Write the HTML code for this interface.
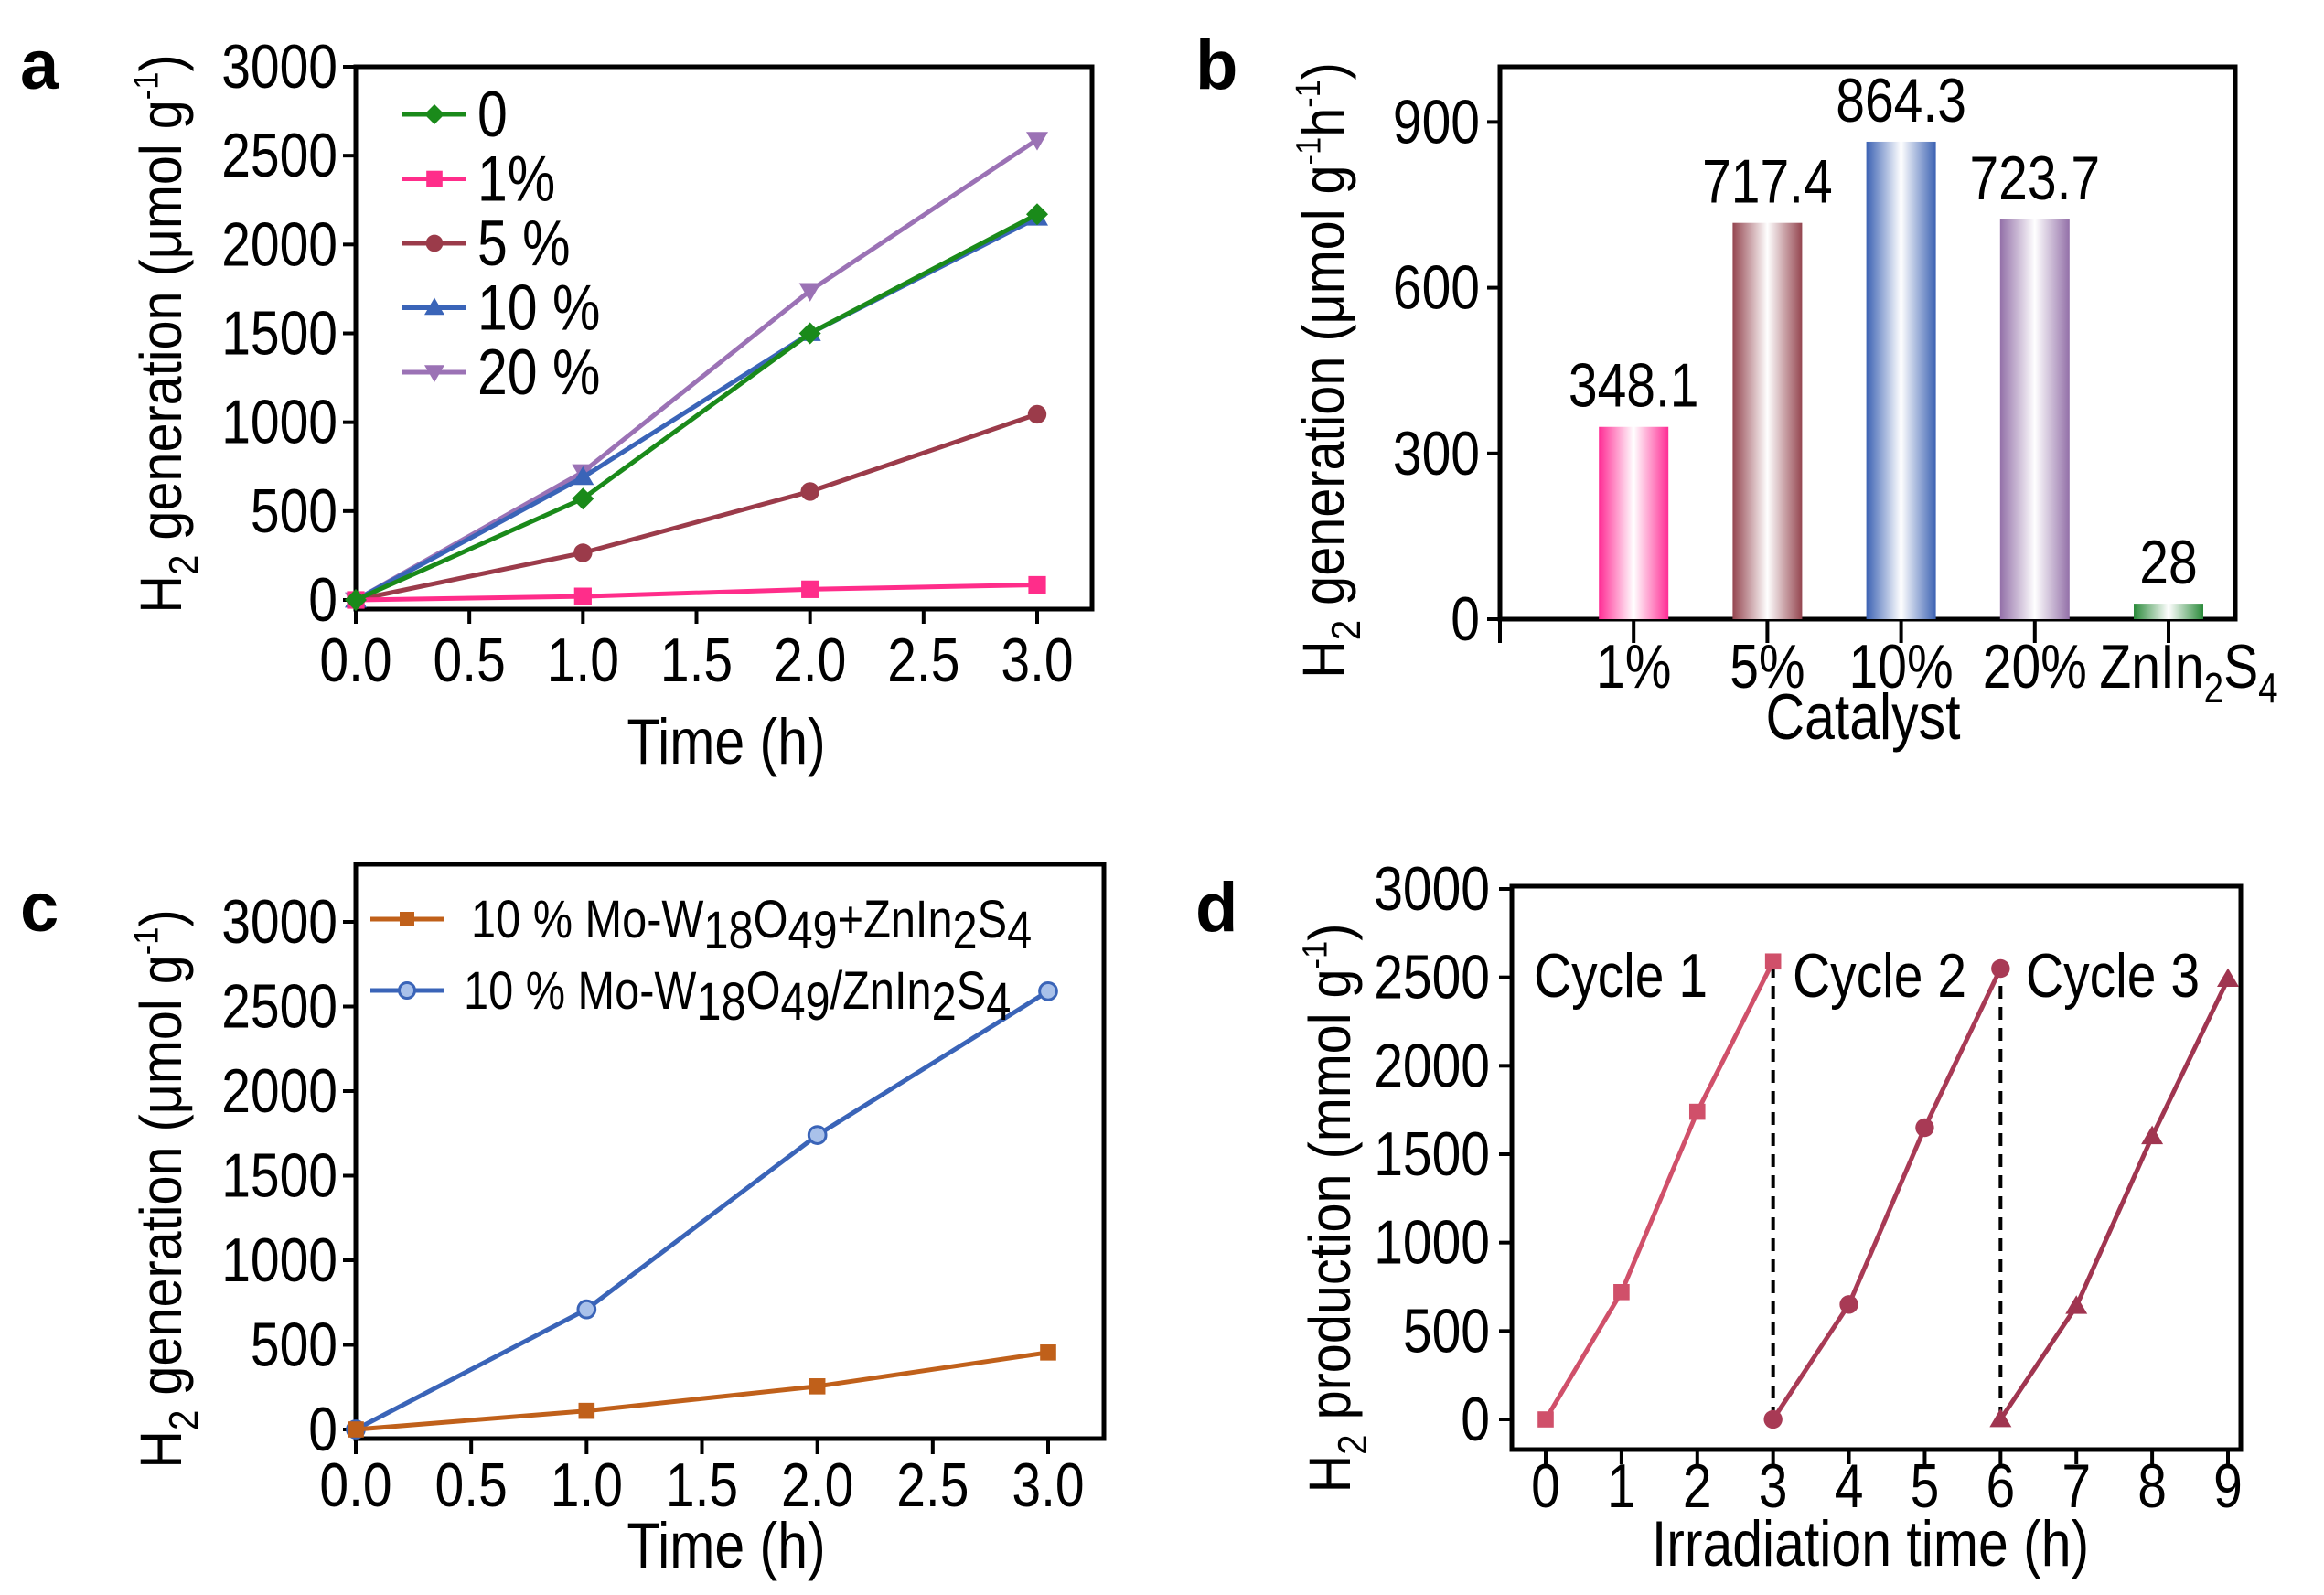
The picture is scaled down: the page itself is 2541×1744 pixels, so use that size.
<!DOCTYPE html>
<html><head><meta charset="utf-8"><style>
html,body{margin:0;padding:0;background:#fff}
svg{display:block}
text{font-family:"Liberation Sans",Arial,sans-serif;fill:#000}
</style></head><body>
<svg id="fig" width="2541" height="1744" viewBox="0 0 2541 1744" xmlns="http://www.w3.org/2000/svg">
<defs>
<linearGradient id="gPink" x1="0" x2="1"><stop offset="0" stop-color="#ff2d95"/><stop offset="0.5" stop-color="#fff"/><stop offset="1" stop-color="#ff2d95"/></linearGradient>
<linearGradient id="gBrown" x1="0" x2="1"><stop offset="0" stop-color="#94454f"/><stop offset="0.5" stop-color="#fff"/><stop offset="1" stop-color="#94454f"/></linearGradient>
<linearGradient id="gBlue" x1="0" x2="1"><stop offset="0" stop-color="#3c62b3"/><stop offset="0.5" stop-color="#fff"/><stop offset="1" stop-color="#3c62b3"/></linearGradient>
<linearGradient id="gPurple" x1="0" x2="1"><stop offset="0" stop-color="#9370a8"/><stop offset="0.5" stop-color="#fff"/><stop offset="1" stop-color="#9370a8"/></linearGradient>
<linearGradient id="gGreen" x1="0" x2="1"><stop offset="0" stop-color="#2a8a3a"/><stop offset="0.5" stop-color="#fff"/><stop offset="1" stop-color="#2a8a3a"/></linearGradient>
</defs>
</svg>
<script>
// ---- Panel a data ----
const aTimes = [0, 1, 2, 3];
const aSeriesNames = ["0", "1%", "5 %", "10 %", "20 %"];
const aVals0 = [0, 570, 1500, 2170];
const aVals1 = [0, 20, 60, 85];
const aVals5 = [0, 265, 610, 1045];
const aVals10 = [0, 690, 1500, 2150];
const aVals20 = [0, 720, 1740, 2590];
const aXTicks = ["0.0","0.5","1.0","1.5","2.0","2.5","3.0"];
const aYTicks = [0, 500, 1000, 1500, 2000, 2500, 3000];
// ---- Panel b data ----
const bCats = ["1%", "5%", "10%", "20%", "ZnIn2S4"];
const bVals = [348.1, 717.4, 864.3, 723.7, 28];
const bLabels = ["348.1", "717.4", "864.3", "723.7", "28"];
const bYTicks = [0, 300, 600, 900];
// ---- Panel c data ----
const cTimes = [0, 1, 2, 3];
const cValsMix = [0, 110, 255, 455];
const cValsComp = [0, 710, 1740, 2590];
const cYTicks = [0, 500, 1000, 1500, 2000, 2500, 3000];
// ---- Panel d data ----
const dT1 = [0, 1, 2, 3];
const dC1 = [0, 720, 1740, 2590];
const dT2 = [3, 4, 5, 6];
const dC2 = [0, 650, 1650, 2550];
const dT3 = [6, 7, 8, 9];
const dC3 = [0, 640, 1600, 2490];
const dXTicks = [0,1,2,3,4,5,6,7,8,9];
const dYTicks = [0, 500, 1000, 1500, 2000, 2500, 3000];

const svg = document.getElementById('fig');
const NS = 'http://www.w3.org/2000/svg';
const SX = 0.84;
function mk(tag, attrs, parent) {
  const e = document.createElementNS(NS, tag);
  for (const k in attrs) e.setAttribute(k, attrs[k]);
  (parent || svg).appendChild(e);
  return e;
}
function txt(x, y, s, size, anchor, parent) {
  const t = mk('text', {x: x / SX, y: y, 'font-size': size * 1.17, 'text-anchor': anchor || 'middle', transform: `scale(${SX},1)`}, parent);
  t.textContent = s;
  return t;
}
function lin(d0, d1, r0, r1) { return v => r0 + (v - d0) * (r1 - r0) / (d1 - d0); }

function marker(g, type, x, y, color, s) {
  let m;
  if (type === 'diamond') m = mk('polygon', {points: `${x},${y-s} ${x+s},${y} ${x},${y+s} ${x-s},${y}`, fill: color}, g);
  else if (type === 'square') m = mk('rect', {x: x-s*0.8, y: y-s*0.8, width: s*1.6, height: s*1.6, fill: color}, g);
  else if (type === 'circle') m = mk('circle', {cx: x, cy: y, r: s*0.85, fill: color}, g);
  else if (type === 'up') m = mk('polygon', {points: `${x},${y-s} ${x+s},${y+s*0.7} ${x-s},${y+s*0.7}`, fill: color}, g);
  else if (type === 'down') m = mk('polygon', {points: `${x},${y+s} ${x+s},${y-s*0.7} ${x-s},${y-s*0.7}`, fill: color}, g);
  else if (type === 'ocircle') m = mk('circle', {cx: x, cy: y, r: s*0.85, fill: '#a9c1ea', stroke: color, 'stroke-width': 3}, g);
  return m;
}
function frame(g, l, t, r, b) {
  mk('rect', {x: l, y: t, width: r-l, height: b-t, fill: 'none', stroke: '#000', 'stroke-width': 5}, g);
}
function yAxisTitle(g, cx, cy, main, sup, size) {
  const t = mk('text', {transform: `translate(${cx},${cy}) rotate(-90) scale(0.9,1)`, 'font-size': size, 'text-anchor': 'middle'}, g);
  
  
  const a = mk('tspan', {}, t); a.textContent = 'H';
  const b = mk('tspan', {'font-size': size*0.7, dy: size*0.28}, t); b.textContent = '2';
  const c = mk('tspan', {dy: -size*0.28}, t); c.textContent = ' ' + main;
  const d = mk('tspan', {'font-size': size*0.6, dy: -size*0.4}, t); d.textContent = sup;
  const e = mk('tspan', {dy: size*0.4}, t); e.textContent = ')';
  return t;
}
function panelLabel(x, y, s) {
  const t = mk('text', {x: x, y: y, 'font-size': 76, 'text-anchor': 'start', 'font-weight': 'bold'});
  t.textContent = s;
  
  
}
function drawSeries(g, xs, ys, X, Y, color, type, name, ms) {
  const sg = mk('g', {}, g);
  
  
  mk('polyline', {points: xs.map((x,i)=>X(x)+','+Y(ys[i])).join(' '), fill: 'none', stroke: color, 'stroke-width': 5}, sg);
  xs.forEach((x,i)=>{
    const m = marker(sg, type, X(x), Y(ys[i]), color, ms || 11);
    
    
  });
}

// ================= Panel a =================
(function(){
  const g = mk('g', {});
  
  
  const L=389, R=1194, T=73, B=666;
  const X = lin(0, 3, 389, 1134), Y = lin(0, 3000, 656, 73);
  frame(g, L, T, R, B);
  aYTicks.forEach(v => {
    mk('line', {x1: L-14, x2: L, y1: Y(v), y2: Y(v), stroke: '#000', 'stroke-width': 4}, g);
    const t = txt(L-20, Y(v)+23, String(v), 58, 'end', g);
    
    
  });
  aXTicks.forEach((s,i) => {
    const x = X(i*0.5);
    mk('line', {x1: x, x2: x, y1: B, y2: B+16, stroke: '#000', 'stroke-width': 4}, g);
    const t = txt(x, 745, s, 58, 'middle', g);
    
    
  });
  const xt = txt(794, 835, 'Time (h)', 60, 'middle', g);
  
  
  yAxisTitle(g, 198, 365, 'generation (μmol g', '-1', 64);
  const cols = ['#1a8a1a', '#ff2d8a', '#9b3b4a', '#3a64b8', '#9b72b5'];
  const types = ['diamond', 'square', 'circle', 'up', 'down'];
  const vals = [aVals0, aVals1, aVals5, aVals10, aVals20];
  [4,3,2,1,0].forEach(i => drawSeries(g, aTimes, vals[i], X, Y, cols[i], types[i], 'series-' + aSeriesNames[i].replace(/[ %]/g,'') + 'pct', 12));
  const lg = mk('g', {}, g);
  
  
  aSeriesNames.forEach((s,i) => {
    const y = 125 + i*70.5;
    const e = mk('g', {}, lg);
    
    
    mk('line', {x1: 440, x2: 510, y1: y, y2: y, stroke: cols[i], 'stroke-width': 5}, e);
    marker(e, types[i], 475, y, cols[i], 11);
    txt(522, y+24, s, 60, 'start', e);
  });
})();
panelLabel(22, 97, 'a');

// ================= Panel b =================
(function(){
  const g = mk('g', {});
  
  
  const L=1640, R=2444, T=73, B=677;
  const X = i => 1640 + (i+1)*146.2;
  const Y = lin(0, 1000, B, T);
  frame(g, L, T, R, B);
  bYTicks.forEach(v => {
    mk('line', {x1: L-14, x2: L, y1: Y(v), y2: Y(v), stroke: '#000', 'stroke-width': 4}, g);
    const t = txt(L-22, Y(v)+23, String(v), 58, 'end', g);
    
    
  });
  mk('line', {x1: L, x2: L, y1: B, y2: B+26, stroke: '#000', 'stroke-width': 4}, g);
  const grads = ['gPink','gBrown','gBlue','gPurple','gGreen'];
  bCats.forEach((c,i) => {
    const x = X(i);
    mk('line', {x1: x, x2: x, y1: B, y2: B+26, stroke: '#000', 'stroke-width': 4}, g);
    const bar = mk('rect', {x: x-38, y: Y(bVals[i]), width: 76, height: B - Y(bVals[i]), fill: 'url(#'+grads[i]+')'}, g);
    
    
    const v = txt(x, Y(bVals[i]) - 22, bLabels[i], 58, 'middle', g);
    
    
    let t;
    if (c === 'ZnIn2S4') {
      t = mk('text', {x: (x+22)/SX, y: 752, 'font-size': 68, 'text-anchor': 'middle', transform: `scale(${SX},1)`}, g);
      const a = mk('tspan', {}, t); a.textContent = 'ZnIn';
      const b = mk('tspan', {'font-size': 46, dy: 16}, t); b.textContent = '2';
      const cc = mk('tspan', {dy: -16}, t); cc.textContent = 'S';
      const d = mk('tspan', {'font-size': 46, dy: 16}, t); d.textContent = '4';
    } else {
      t = txt(x, 752, c, 58, 'middle', g);
    }
    
    
  });
  const xt = txt(2037, 808, 'Catalyst', 60, 'middle', g);
  
  
  const t = yAxisTitle(g, 1469, 405, 'generation (μmol g', '-1', 64);
  const last = t.lastChild;
  last.textContent = 'h';
  const s = mk('tspan', {'font-size': 38, dy: -26}, t); s.textContent = '-1';
  const p = mk('tspan', {dy: 26}, t); p.textContent = ')';
})();
panelLabel(1307, 97, 'b');

// ================= Panel c =================
(function(){
  const g = mk('g', {});
  
  
  const L=389, R=1207, T=945, B=1573;
  const X = lin(0, 3, 389, 1146), Y = lin(0, 3000, 1563, 1008);
  frame(g, L, T, R, B);
  cYTicks.forEach(v => {
    mk('line', {x1: L-14, x2: L, y1: Y(v), y2: Y(v), stroke: '#000', 'stroke-width': 4}, g);
    const t = txt(L-20, Y(v)+23, String(v), 58, 'end', g);
    
    
  });
  aXTicks.forEach((s,i) => {
    const x = X(i*0.5);
    mk('line', {x1: x, x2: x, y1: B, y2: B+17, stroke: '#000', 'stroke-width': 4}, g);
    const t = txt(x, 1647, s, 58, 'middle', g);
    
    
  });
  const xt = txt(794, 1714, 'Time (h)', 60, 'middle', g);
  
  
  yAxisTitle(g, 198, 1300, 'generation (μmol g', '-1', 64);
  drawSeries(g, cTimes, cValsComp, X, Y, '#3a64b8', 'ocircle', 'series-composite', 11);
  drawSeries(g, cTimes, cValsMix, X, Y, '#c0601a', 'square', 'series-mixture', 11);
  const lg = mk('g', {}, g);
  
  
  const names = [['10 % Mo-W','18','O','49','+ZnIn','2','S','4'], ['10 % Mo-W','18','O','49','/ZnIn','2','S','4']];
  const cols = ['#c0601a', '#3a64b8'], types = ['square','ocircle'];
  [1005, 1083].forEach((y,i) => {
    const e = mk('g', {}, lg);
    
    
    mk('line', {x1: 405, x2: 486, y1: y, y2: y, stroke: cols[i], 'stroke-width': 5}, e);
    marker(e, types[i], 445, y, cols[i], 10);
    const t = mk('text', {x: (515 - i*8)/SX, y: y+20, 'font-size': 58, 'text-anchor': 'start', transform: `scale(${SX},1)`}, e);
    names[i].forEach((s,k) => {
      const sp = mk('tspan', {}, t);
      if (k % 2 === 1) { sp.setAttribute('dy', 12); }
      else if (k > 0) { sp.setAttribute('dy', -12); }
      sp.textContent = s;
    });
  });
})();
panelLabel(22, 1018, 'c');

// ================= Panel d =================
(function(){
  const g = mk('g', {});
  
  
  const L=1653, R=2450, T=969, B=1585;
  const X = lin(0, 9, 1690, 2436), Y = lin(0, 3000, 1552, 972);
  frame(g, L, T, R, B);
  dYTicks.forEach(v => {
    mk('line', {x1: L-14, x2: L, y1: Y(v), y2: Y(v), stroke: '#000', 'stroke-width': 4}, g);
    const t = txt(L-24, Y(v)+23, String(v), 58, 'end', g);
    
    
  });
  dXTicks.forEach(v => {
    const x = X(v);
    mk('line', {x1: x, x2: x, y1: B, y2: B+16, stroke: '#000', 'stroke-width': 4}, g);
    const t = txt(x, 1648, String(v), 58, 'middle', g);
    
    
  });
  const xt = txt(2045, 1712, 'Irradiation time (h)', 60, 'middle', g);
  
  
  yAxisTitle(g, 1476, 1321, 'production (mmol g', '-1', 64);
  [[dT1[dT1.length-1], dC1[dC1.length-1]], [dT2[dT2.length-1], dC2[dC2.length-1]]].forEach(p => {
    const l = mk('line', {x1: X(p[0]), x2: X(p[0]), y1: Y(0), y2: Y(p[1]), stroke: '#000', 'stroke-width': 4, 'stroke-dasharray': '14,9'}, g);
    
    
  });
  drawSeries(g, dT1, dC1, X, Y, '#d0506a', 'square', 'series-cycle-1', 11);
  drawSeries(g, dT2, dC2, X, Y, '#a83a55', 'circle', 'series-cycle-2', 12);
  drawSeries(g, dT3, dC3, X, Y, '#a03550', 'up', 'series-cycle-3', 12);
  [['Cycle 1', 1677], ['Cycle 2', 1960], ['Cycle 3', 2215]].forEach(c => {
    const t = txt(c[1], 1090, c[0], 58, 'start', g);
    
    
  });
})();
panelLabel(1307, 1018, 'd');
</script>
</body></html>
